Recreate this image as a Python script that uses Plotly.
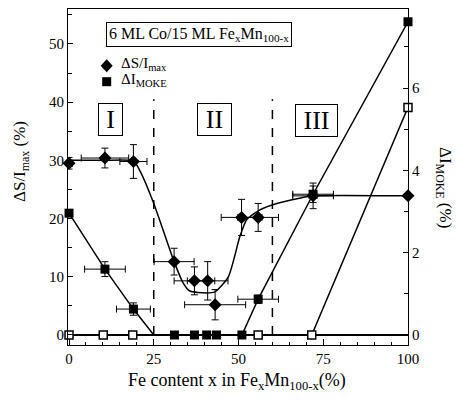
import plotly.graph_objects as go

# ---- data ----
# Diamonds: ΔS/I_max (left axis, %)
ds_x = [0, 10.6, 19, 31, 37, 40.9, 43.1, 50.9, 55.8, 72, 100]
ds_y = [29.5, 30.4, 29.8, 12.6, 9.3, 9.3, 5.2, 20.2, 20.2, 23.9, 23.9]
ds_xerr = [1, 7, 4, 5.9, 6, 6, 9, 6, 6, 6, 0]
ds_yerr = [1, 1.7, 2.9, 2.3, 2.4, 3.3, 2.6, 3.1, 2.4, 2.2, 0]

# Guide curve through diamonds
ds_fit_x = [0, 10, 19, 21, 25, 31, 33.7, 35.5, 38, 43, 47, 50.4, 52.4, 56.3, 61.3, 68, 72, 100]
ds_fit_y = [30.0, 30.0, 29.9, 28.1, 22.6, 12.6, 8.9, 7.6, 7.3, 7.4, 10.0, 16.9, 19.8, 21.5, 22.6, 23.5, 23.9, 23.9]

# Filled squares: ΔI_MOKE (right axis, %)
moke_x = [0, 10.6, 19, 31.1, 37, 40.6, 43.5, 51, 55.8, 72, 100]
moke_y = [2.96, 1.6, 0.63, 0, 0, 0, 0, 0, 0.87, 3.42, 7.61]
moke_xerr = [0.5, 6, 5, 0, 0, 0, 0, 0, 6, 6, 0]
moke_yerr = [0.08, 0.18, 0.15, 0, 0, 0, 0, 0, 0.1, 0.2, 0]
moke_line_x = [0, 10.6, 19, 25, 51, 55.8, 72, 100]
moke_line_y = [2.96, 1.6, 0.63, 0, 0, 0.87, 3.42, 7.61]

# Open squares (right axis, %)
open_x = [0, 10.1, 18.8, 55.8, 71.6, 100]
open_y = [0, 0, 0, 0, 0, 5.53]

# Region boundaries and labels
boundary_x = [25, 60]
region_labels = ["I", "II", "III"]

x_ticks = [0, 25, 50, 75, 100]
y_ticks = [0, 10, 20, 30, 40, 50]
y2_ticks = [0, 2, 4, 6]

FONT = "Liberation Serif, Times New Roman, serif"

# plot-area pixel geometry helpers (for legend/annotation placement only)
L, R, T, B = 68, 49, 9, 58
W, H = 457, 403
PW, PH = W - L - R, H - T - B


def px(x):
    return (x - L) / PW


def py(y):
    return 1 - (y - T) / PH


fig = go.Figure()

fig.add_trace(go.Scatter(x=ds_fit_x, y=ds_fit_y, mode="lines", line=dict(color="black", width=1.5, shape="spline", smoothing=0.6),
                         showlegend=False, hoverinfo="skip", yaxis="y"))
fig.add_trace(go.Scatter(x=moke_line_x, y=moke_line_y, mode="lines", line=dict(color="black", width=1.5),
                         showlegend=False, yaxis="y2"))
fig.add_trace(go.Scatter(x=[open_x[0], open_x[-2], open_x[-1]], y=[open_y[0], open_y[-2], open_y[-1]], mode="lines",
                         line=dict(color="black", width=1.5), showlegend=False, yaxis="y2"))
fig.add_trace(go.Scatter(x=open_x, y=open_y, mode="markers", yaxis="y2", showlegend=False, cliponaxis=False,
                         marker=dict(symbol="square", size=8, color="white", line=dict(color="black", width=1.5))))
fig.add_trace(go.Scatter(x=ds_x, y=ds_y, mode="markers", yaxis="y", name="ΔS/I<sub>max</sub>", cliponaxis=False,
                         showlegend=False,
                         marker=dict(symbol="diamond", size=10, color="black"),
                         error_x=dict(type="data", array=ds_xerr, color="black", thickness=1, width=3.5),
                         error_y=dict(type="data", array=ds_yerr, color="black", thickness=1, width=3.5)))
fig.add_trace(go.Scatter(x=moke_x, y=moke_y, mode="markers", yaxis="y2", name="ΔI<sub>MOKE</sub>", cliponaxis=False,
                         showlegend=False,
                         marker=dict(symbol="square", size=9, color="black"),
                         error_x=dict(type="data", array=moke_xerr, color="black", thickness=1, width=3.5),
                         error_y=dict(type="data", array=moke_yerr, color="black", thickness=1, width=3.5)))

shapes = [dict(type="line", xref="paper", x0=0, x1=1, yref="y", y0=0, y1=0, line=dict(color="black", width=2), layer="below")]
for bx in boundary_x:
    shapes.append(dict(type="line", xref="x", x0=bx, x1=bx, yref="y", y0=0, y1=40.5,
                       line=dict(color="black", width=1.5, dash="dash"), layer="below"))

# legend symbols (custom legend)
dcx, dcy = 106.7, 65.7
shapes.append(dict(type="path", xref="paper", yref="paper",
                   path=f"M {px(dcx-6)} {py(dcy)} L {px(dcx)} {py(dcy-6.5)} L {px(dcx+6)} {py(dcy)} L {px(dcx)} {py(dcy+6.5)} Z",
                   fillcolor="black", line=dict(color="black", width=0)))
scx, scy = 106.7, 81.7
shapes.append(dict(type="rect", xref="paper", yref="paper", x0=px(scx-4.5), x1=px(scx+4.5), y0=py(scy+4.5), y1=py(scy-4.5),
                   fillcolor="black", line=dict(color="black", width=0)))

def ann(text, x, y, size, **kw):
    d = dict(text=text, xref="paper", yref="paper", x=x, y=y, xanchor="center", yanchor="middle",
             showarrow=False, font=dict(family=FONT, size=size, color="black"))
    d.update(kw)
    return d

annotations = [
    ann("6 ML Co/15 ML Fe<sub>x</sub>Mn<sub>100-x</sub>", px(198.5), py(34.5), 16,
        bordercolor="black", borderwidth=1, borderpad=2, bgcolor="white"),
    ann("ΔS/I<sub>max</sub>", px(119), py(64), 15, xanchor="left"),
    ann("ΔI<sub>MOKE</sub>", px(119), py(80), 15, xanchor="left"),
    ann("ΔS/I<sub>max</sub> (%)", px(21), py(162), 17, textangle=-90),
    ann("ΔI<sub>MOKE</sub> (%)", px(444), py(187), 17, textangle=90),
    ann("Fe content x in Fe<sub>x</sub>Mn<sub>100-x</sub>(%)", px(237), py(381), 18),
]
label_pos = [(110.8, 119.5, 23), (214.2, 120, 33), (316.7, 121, 41)]
for lab, (lx, ly, w) in zip(region_labels, label_pos):
    annotations.append(ann(lab, px(lx), py(ly), 26, bordercolor="black", borderwidth=1,
                           borderpad=0, width=w, height=31, bgcolor="white"))

axis_font = dict(family=FONT, size=15, color="black")
fig.update_layout(
    width=W, height=H,
    margin=dict(l=L, r=R, t=T, b=B),
    paper_bgcolor="white", plot_bgcolor="white",
    font=dict(family=FONT, color="black"),
    shapes=shapes, annotations=annotations,
    showlegend=False,
    xaxis=dict(range=[-0.3, 100], tickvals=x_ticks, ticks="inside", ticklen=6, tickcolor="black",
               showline=True, linecolor="black", linewidth=1, mirror=True, showgrid=False, zeroline=False,
               tickfont=axis_font, minor=dict(dtick=5, ticklen=3, ticks="inside", tickcolor="black")),
    yaxis=dict(range=[-1.72, 56.0], tickvals=y_ticks, ticks="inside", ticklen=5, tickcolor="black",
               showline=True, linecolor="black", linewidth=1, showgrid=False, zeroline=False,
               tickfont=axis_font, minor=dict(dtick=5, ticklen=4, ticks="inside", tickcolor="black")),
    yaxis2=dict(range=[-0.243, 7.92], tickvals=y2_ticks, overlaying="y", side="right", ticks="inside", ticklen=5,
                tickcolor="black", showline=True, linecolor="black", linewidth=1, showgrid=False, zeroline=False,
                tickfont=axis_font, minor=dict(dtick=1, ticklen=4, ticks="inside", tickcolor="black")),
)

fig.write_html("out.html")
